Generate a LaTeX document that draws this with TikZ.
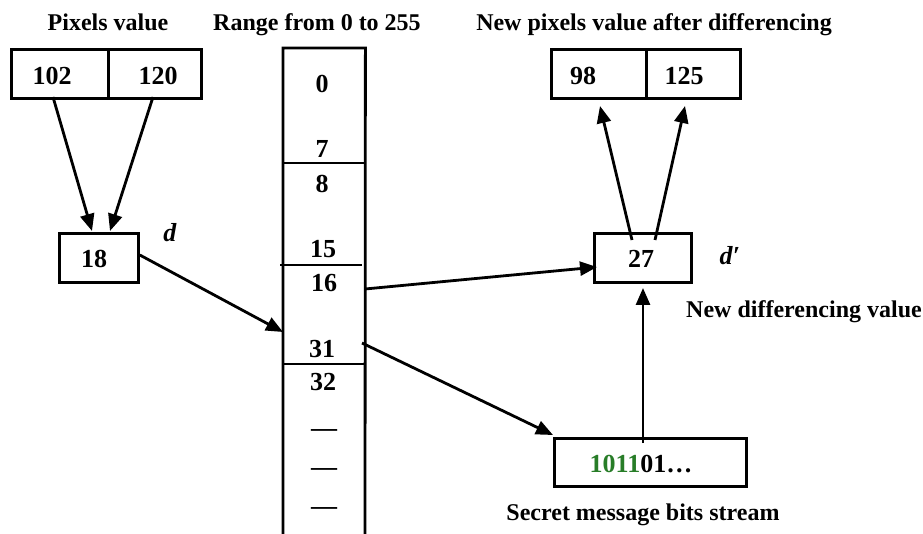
\documentclass[tikz,border=0pt]{standalone}
\usepackage{fontspec}
\setmainfont{Liberation Serif}
\usetikzlibrary{arrows.meta}
\definecolor{bitgreen}{RGB}{40,125,40}
\tikzset{
  every picture/.style={x=1pt,y=-1pt},
  txt/.style={anchor=base,inner sep=0pt,font=\fontsize{24}{28}\selectfont\bfseries},
  num/.style={anchor=base,inner sep=0pt,font=\fontsize{26}{30}\selectfont\bfseries},
  box/.style={draw,line width=2.8pt,minimum width=#1,minimum height=49pt,inner sep=0pt,anchor=north west},
  arr/.style={line width=2.8pt,-{Triangle[length=17pt,width=14pt]}},
  ln/.style={line width=2.8pt}
}
\begin{document}
\begin{tikzpicture}
\useasboundingbox (0,0) rectangle (923,534);
% titles
\node[txt] (t1) at (108,31) {Pixels value};
\node[txt] (t2) at (317,31) {Range from 0 to 255};
\node[txt] (t3) at (654,31) {New pixels value after differencing};
% top-left boxes
\node[box=97pt] (b102) at (10,48) {};
\node[box=93pt] (b120) at (107,48) {};
\node[num] (x102) at (52,85) {102};
\node[num] (x120) at (158,85) {120};
% top-right boxes
\node[box=95pt] (b98) at (550,48) {};
\node[box=94pt] (b125) at (645,48) {};
\node[num] (x98) at (583,85) {98};
\node[num] (x125) at (684,85) {125};
% d box
\node[box=79pt] (b18) at (58,232) {};
\node[num] (x18) at (94,268) {18};
\node[num] (dl) at (170,242) {\textit{d}};
% d' box
\node[box=97pt] (b27) at (593,232) {};
\node[num] (x27) at (641,268) {27};
\node[num] (dpl) at (730,265) {\textit{d}′};
\node[txt] (ndv) at (804,318) {New differencing value};
% bits box
\node[box=192pt,minimum height=48pt] (bits) at (553,437) {};
\node[num] (xbits) at (641,472) {\textcolor{bitgreen}{1011}01…};
\node[txt] (sm) at (643,520) {Secret message bits stream};
% range column
\node[inner sep=0pt,minimum width=82pt,minimum height=490pt,anchor=north west] (col) at (283,48) {};
\draw[ln] (283,540) -- (col.north west) -- (col.north east) -- (365,540);
\draw[ln] (283,163) -- (365,163);
\draw[ln] (280,265) -- (362,265);
\draw[ln] (283,364) -- (365,364);
\node[num] (r0) at (322,93) {0};
\node[num] (r7) at (322,158) {7};
\node[num] (r8) at (322,193) {8};
\node[num] (r15) at (323,258) {15};
\node[num] (r16) at (324,292) {16};
\node[num] (r31) at (322,357) {31};
\node[num] (r32) at (323,390) {32};
\node[num] (e1) at (324,436) {—};
\node[num] (e2) at (324,475) {—};
\node[num] (e3) at (324,514) {—};
% connector coordinates
\coordinate (p1s) at (53,97);
\coordinate (p1e) at (92,231);
\coordinate (p2s) at (153,97);
\coordinate (p2e) at (110,231);
\coordinate (c1e) at (283,332);
\coordinate (c2s) at (365,289);
\coordinate (c2e) at (597,267);
\coordinate (c3s) at (362,343);
\coordinate (c3e) at (553,435);
\coordinate (u1s) at (632,240);
\coordinate (u1e) at (600,106);
\coordinate (u2s) at (655,240);
\coordinate (u2e) at (685,106);
\coordinate (v1s) at (643,443);
\coordinate (v1e) at (643,288);
% connectors
\draw[arr] (p1s) -- (p1e);
\draw[arr] (p2s) -- (p2e);
\draw[arr] (b18.east |- 0,255) -- (c1e);
\draw[arr] (c2s) -- (c2e);
\draw[arr] (c3s) -- (c3e);
\draw[arr] (u1s) -- (u1e);
\draw[arr] (u2s) -- (u2e);
\draw[arr] (v1s) -- (v1e);
\end{tikzpicture}
\end{document}
